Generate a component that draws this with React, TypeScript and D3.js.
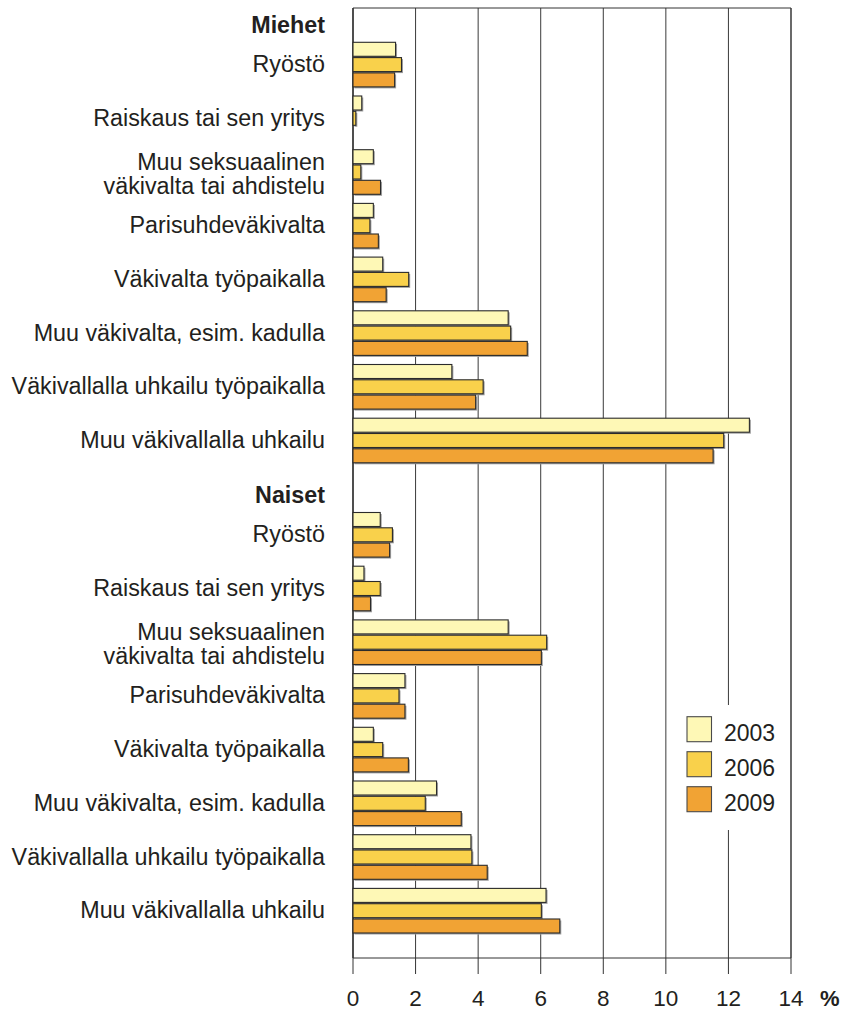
import React from 'react';
import * as d3 from 'd3';

const categories = [
  'Ryöstö',
  'Raiskaus tai sen yritys',
  'Muu seksuaalinen\nväkivalta tai ahdistelu',
  'Parisuhdeväkivalta',
  'Väkivalta työpaikalla',
  'Muu väkivalta, esim. kadulla',
  'Väkivallalla uhkailu työpaikalla',
  'Muu väkivallalla uhkailu',
];
const years = ['2003', '2006', '2009'];

const men2003 = [1.36, 0.28, 0.65, 0.65, 0.95, 4.96, 3.16, 12.67];
const men2006 = [1.55, 0.09, 0.25, 0.54, 1.78, 5.04, 4.16, 11.85];
const men2009 = [1.33, 0, 0.88, 0.81, 1.06, 5.57, 3.92, 11.51];
const women2003 = [0.87, 0.35, 4.96, 1.66, 0.65, 2.67, 3.77, 6.17];
const women2006 = [1.26, 0.87, 6.19, 1.47, 0.95, 2.31, 3.8, 6.02];
const women2009 = [1.17, 0.56, 6.02, 1.66, 1.77, 3.46, 4.29, 6.61];

const colors = ['#fef8b6', '#f9d14b', '#f1a334'];
const font = '"Liberation Sans", Arial, sans-serif';
const textColor = '#231f20';
const labelSize = 23.3;

const W = 843;
const H = 1012;
const plotTop = 8;
const plotBottom = 958;

const sections = [
  { title: 'Miehet', top: 42.3, series: [men2003, men2006, men2009] },
  { title: 'Naiset', top: 512.5, series: [women2003, women2006, women2009] },
];

const App: React.FC = () => {
  const x = d3.scaleLinear().domain([0, 14]).range([353, 791]);
  const ticks = x.ticks(7);
  const inner = d3.scaleBand<string>().domain(years).range([0, 44.6]).paddingInner(0.085);

  return (
    <svg width={W} height={H} style={{ position: 'absolute', left: 0, top: 0, display: 'block' }}
      fontFamily={font}>
      <rect width={W} height={H} fill="#fff" />
      {/* grid */}
      {ticks.map((t) => (
        <line key={'g' + t} x1={x(t)} x2={x(t)} y1={plotTop} y2={plotBottom}
          stroke={t === 0 ? '#222' : t === 14 ? '#444' : '#3a3a3a'}
          strokeWidth={t === 0 || t === 14 ? 1.6 : 1} />
      ))}
      <line x1={x(0)} x2={x(14)} y1={plotTop} y2={plotTop} stroke="#333" strokeWidth={1} />

      {sections.map((s) => {
        const y = d3.scaleBand<string>().domain(categories).range([s.top, s.top + 8 * 53.7]);
        return (
          <g key={s.title}>
            <text x={325} y={s.top - 9.5} textAnchor="end" fontSize={labelSize} fontWeight="bold" fill={textColor}>
              {s.title}
            </text>
            {categories.map((c, i) => {
              const y0 = y(c)!;
              const center = y0 + 22.3;
              const lines = c.split('\n');
              return (
                <g key={c}>
                  {lines.length === 1 ? (
                    <text x={325} y={center + 7.5} textAnchor="end" fontSize={labelSize} fill={textColor}>{c}</text>
                  ) : (
                    lines.map((l, k) => (
                      <text key={k} x={325} y={center - 2 + k * 24} textAnchor="end" fontSize={labelSize} fill={textColor}>{l}</text>
                    ))
                  )}
                  {years.map((yr, j) => {
                    const v = s.series[j][i];
                    if (!v) return null;
                    const by = y0 + inner(yr)!;
                    const w = x(v) - x(0);
                    return (
                      <g key={yr}>
                        <rect x={x(0) + 1.5} y={by + 1.5} width={w} height={inner.bandwidth()} fill="#a0a0a0" />
                        <rect x={x(0)} y={by} width={w} height={inner.bandwidth()} fill={colors[j]}
                          stroke="#2b2b2b" strokeWidth={1.1} />
                      </g>
                    );
                  })}
                </g>
              );
            })}
          </g>
        );
      })}

      {/* legend */}
      <rect x={668} y={705} width={121} height={125} fill="#fff" />
      {years.map((yr, j) => (
        <g key={yr} transform={`translate(687, ${716.7 + j * 35})`}>
          <rect x={0} y={0} width={24.5} height={25} fill={colors[j]} stroke="#4a4a4a" strokeWidth={1.1} />
          <text x={37} y={24} fontSize={23} fill={textColor}>{yr}</text>
        </g>
      ))}

      {/* axis */}
      <line x1={x(0)} x2={x(14)} y1={plotBottom} y2={plotBottom} stroke="#333" strokeWidth={1} />
      {ticks.map((t) => (
        <g key={'t' + t}>
          <line x1={x(t)} x2={x(t)} y1={plotBottom} y2={974} stroke="#333" strokeWidth={1} />
          <text x={x(t)} y={1006} textAnchor="middle" fontSize={22.5} fill={textColor}>{t}</text>
        </g>
      ))}
      <text x={820} y={1006} fontSize={22} fontWeight="bold" fill={textColor}>%</text>
    </svg>
  );
};

export default App;
